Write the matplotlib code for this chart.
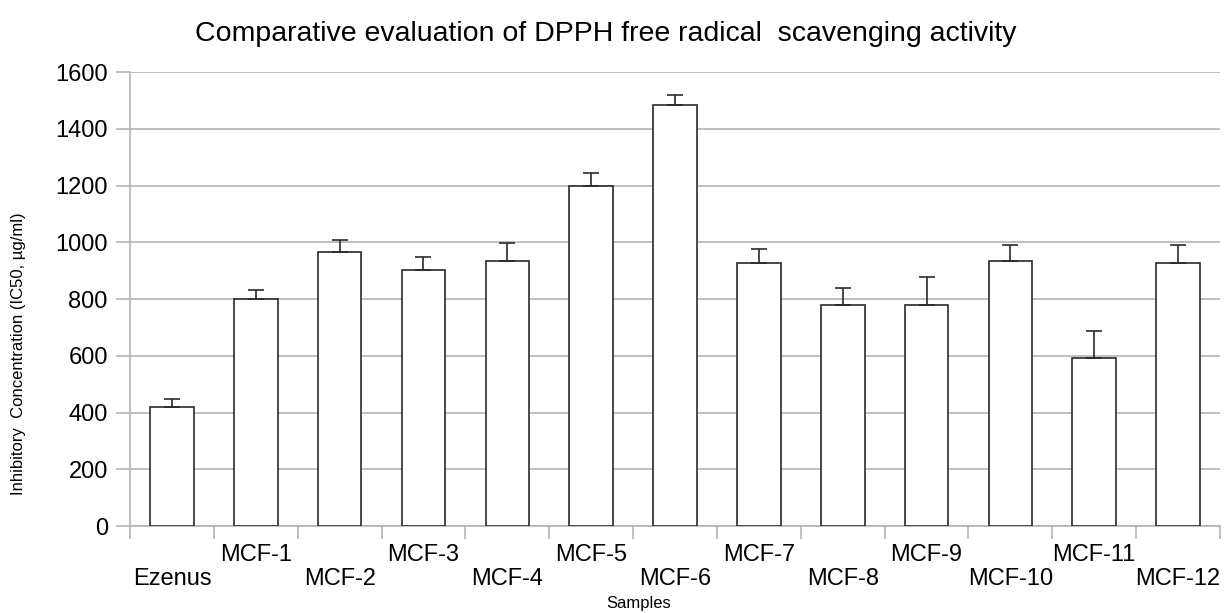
import matplotlib
matplotlib.use('Agg')
import matplotlib.pyplot as plt
import numpy as np

plt.rcParams['font.family'] = ['Liberation Sans', 'DejaVu Sans']

# Data
samples = ['Ezenus', 'MCF-1', 'MCF-2', 'MCF-3', 'MCF-4', 'MCF-5', 'MCF-6',
           'MCF-7', 'MCF-8', 'MCF-9', 'MCF-10', 'MCF-11', 'MCF-12']
ic50 = [420, 800, 965, 903, 933, 1200, 1485, 927, 780, 780, 933, 592, 927]
err = [26, 32, 44, 44, 64, 45, 33, 50, 58, 96, 58, 94, 63]

y_ticks = [0, 200, 400, 600, 800, 1000, 1200, 1400, 1600]

fig = plt.figure(figsize=(12.28, 6.13), dpi=100)
ax = fig.add_axes([0.1059, 0.1419, 0.8876, 0.7406])

x = np.arange(len(samples))
ax.bar(x, ic50, width=0.52, color='white', edgecolor='#2a2a2a', linewidth=1.2, zorder=3)
ax.errorbar(x, ic50, yerr=[np.zeros(len(err)), err], fmt='none', ecolor='#2a2a2a',
            elinewidth=1.2, capsize=6, capthick=1.2, zorder=4)

ax.set_xlim(-0.5, len(samples) - 0.5)
ax.set_ylim(0, 1600)
ax.set_yticks(y_ticks)
ax.yaxis.grid(True, color='#b4b4b4', linewidth=1.2, zorder=0)

# ticks at category boundaries, labels at centres (staggered in two rows)
ax.set_xticks(np.arange(len(samples) + 1) - 0.5)
ax.set_xticklabels([])
ax.set_xticks(x, minor=True)
ax.set_xticklabels([('\n' + s) if i % 2 == 0 else s for i, s in enumerate(samples)],
                   minor=True, fontsize=17, linespacing=1.1)
ax.tick_params(axis='x', which='minor', length=0, pad=13)
ax.tick_params(axis='x', which='major', length=9, color='#b4b4b4', width=1.2)
ax.tick_params(axis='y', length=10, color='#b4b4b4', width=1.2, labelsize=17, pad=6)

for s in ['top', 'right']:
    ax.spines[s].set_visible(False)
for s in ['left', 'bottom']:
    ax.spines[s].set_color('#b4b4b4')
    ax.spines[s].set_linewidth(1.2)

fig.text(0.493, 0.944, 'Comparative evaluation of DPPH free radical  scavenging activity',
         ha='center', va='center', fontsize=20.5)
fig.text(0.52, 0.016, 'Samples', ha='center', va='center', fontsize=12)
fig.text(0.015, 0.4225, 'Inhibitory  Concentration (IC50, µg/ml)', ha='center', va='center',
         rotation=90, fontsize=12)

fig.savefig('out.png', dpi=100)
